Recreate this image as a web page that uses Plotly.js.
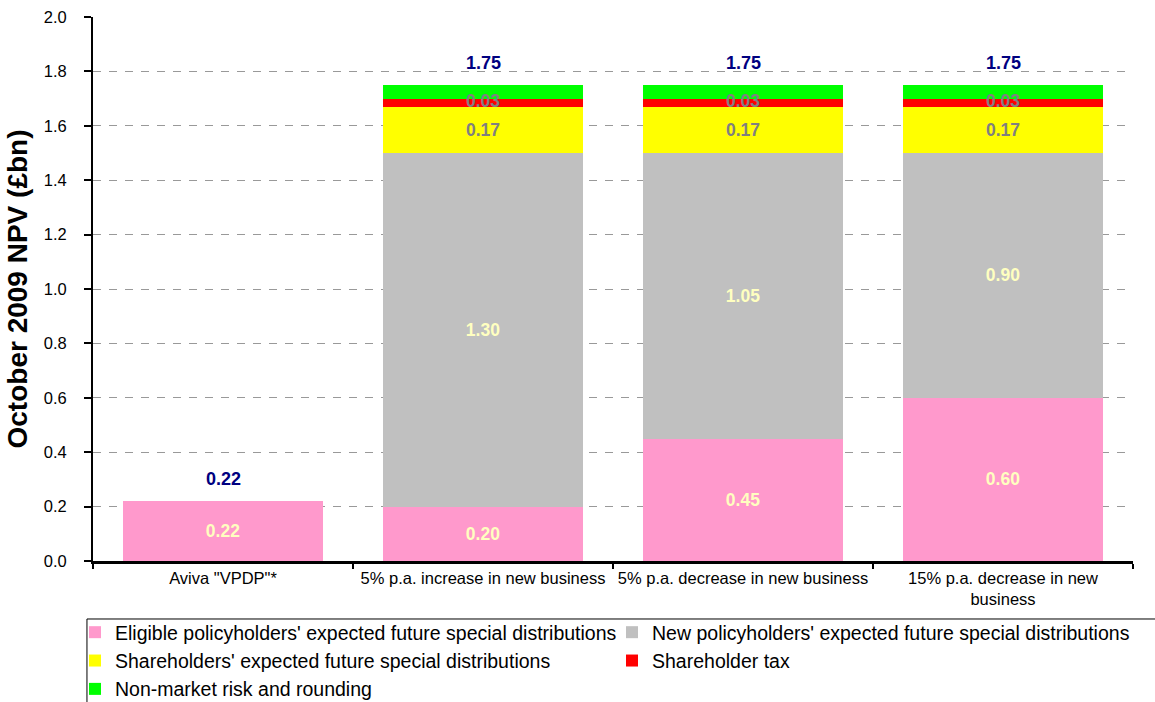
<!DOCTYPE html>
<html>
<head>
<meta charset="utf-8">
<script src="https://cdn.plot.ly/plotly-3.0.1.min.js"></script>
<style>html,body{margin:0;padding:0;background:#fff;}#chart{width:1155px;height:702px;}</style>
</head>
<body>
<div id="chart"></div>
<script>
const categories = ['Aviva "VPDP"*', '5% p.a. increase in new business', '5% p.a. decrease in new business', '15% p.a. decrease in new<br>business'];
const eligible = [0.22, 0.20, 0.45, 0.60];
const newPolicy = [0, 1.30, 1.05, 0.90];
const shareholders = [0, 0.17, 0.17, 0.17];
const shareTax = [0, 0.03, 0.03, 0.03];
const nonMarket = [0, 0.05, 0.05, 0.05];
const totals = [0.22, 1.75, 1.75, 1.75];
const seriesNames = ["Eligible policyholders' expected future special distributions",
  "New policyholders' expected future special distributions",
  "Shareholders' expected future special distributions",
  "Shareholder tax",
  "Non-market risk and rounding"];

const FONT = 'Liberation Sans, Arial, sans-serif';
const lbl = v => v.map(x => x > 0 ? x.toFixed(2) : '');

function barTrace(y, name, color, textColor, showText) {
  return {
    type: 'bar', x: categories, y: y, name: name,
    marker: {color: color, line: {width: 0}},
    text: showText ? lbl(y) : undefined,
    textposition: showText ? 'inside' : 'none',
    insidetextanchor: 'middle',
    textangle: 0,
    constraintext: 'none',
    insidetextfont: {family: FONT, size: 17.5, color: textColor, weight: 'bold'},
    hoverinfo: 'x+y+name'
  };
}

const taxMid = categories.map((c, i) => eligible[i] + newPolicy[i] + shareholders[i] + shareTax[i] / 2);

const data = [
  barTrace(eligible, seriesNames[0], '#FF99CC', '#FFFFC0', true),
  barTrace(newPolicy, seriesNames[1], '#C0C0C0', '#FFFFC0', true),
  barTrace(shareholders, seriesNames[2], '#FFFF00', '#808080', true),
  barTrace(shareTax, seriesNames[3], '#FF0000', '#808080', false),
  barTrace(nonMarket, seriesNames[4], '#00FF00', '#808080', false),
  {
    type: 'scatter', mode: 'text', x: categories, y: taxMid,
    text: lbl(shareTax), textposition: 'middle center',
    textfont: {family: FONT, size: 17.5, color: '#808080', weight: 'bold'},
    showlegend: false, hoverinfo: 'skip'
  }
];

const annotations = categories.map((c, i) => ({
  x: c, y: totals[i], xref: 'x', yref: 'y',
  text: '<b>' + totals[i].toFixed(2) + '</b>',
  showarrow: false, yanchor: 'bottom', yshift: 10,
  font: {family: FONT, size: 18, color: '#000080'}
}));

const layout = {
  width: 1155, height: 702,
  margin: {l: 93, r: 22, t: 17, b: 141, autoexpand: false},
  paper_bgcolor: '#fff', plot_bgcolor: '#fff',
  font: {family: FONT, color: '#000'},
  barmode: 'stack', bargap: 0.23,
  showlegend: true,
  legend: {
    orientation: 'h', x: -0.0173, y: -0.0956, xanchor: 'left', yanchor: 'top',
    font: {family: FONT, size: 19.5, color: '#000'},
    borderwidth: 0, bgcolor: 'rgba(0,0,0,0)',
    entrywidth: 492, entrywidthmode: 'pixels', itemwidth: 30,
    traceorder: 'normal'
  },
  shapes: [{
    type: 'rect', xref: 'paper', yref: 'paper',
    x0: -0.0058, x1: 1.03, y0: -0.1066, y1: -0.30,
    line: {color: '#000', width: 1}, fillcolor: 'rgba(0,0,0,0)', layer: 'above'
  }],
  xaxis: {
    type: 'category', showline: true, linecolor: '#000', linewidth: 3,
    ticks: 'outside', tickson: 'boundaries', ticklen: 5, tickwidth: 2, tickcolor: '#000',
    tickangle: 0,
    tickfont: {family: FONT, size: 16.5, color: '#000'},
    showgrid: false, zeroline: false, fixedrange: true
  },
  yaxis: {
    range: [0, 2], dtick: 0.2, tick0: 0, tickformat: '.1f',
    showline: true, linecolor: '#000', linewidth: 2,
    ticks: 'outside', ticklen: 7, tickwidth: 2, tickcolor: '#000',
    ticklabelstandoff: 14,
    tickfont: {family: FONT, size: 16.5, color: '#000'},
    showgrid: true, gridcolor: '#999999', gridwidth: 1, griddash: '8px,8px',
    zeroline: false,
    title: {text: 'October 2009 NPV (£bn)', font: {family: FONT, size: 28, color: '#000', weight: 'bold'}, standoff: 8},
    fixedrange: true
  },
  annotations: annotations
};

Plotly.newPlot('chart', data, layout, {displayModeBar: false, staticPlot: true});
</script>
</body>
</html>
